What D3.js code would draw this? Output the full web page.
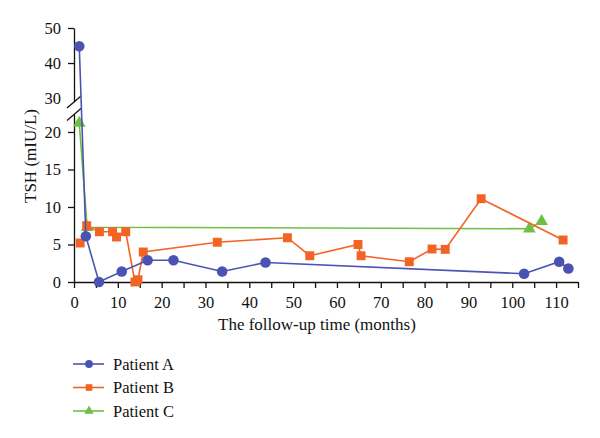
<!DOCTYPE html>
<html lang="en">
<head>
<meta charset="UTF-8">
<title>TSH follow-up</title>
<script src="https://d3js.org/d3.v7.min.js"></script>
<style>
  body { margin: 0; background: #fff; }
  svg text { font-family: "Liberation Serif", "DejaVu Serif", serif; fill: #111; }
  .axis path, .axis line { stroke: #111; stroke-width: 1.3; }
  .axis text { font-size: 16.5px; }
</style>
</head>
<body>
<script>
// follow-up months and TSH (mIU/L) per patient
const monthsA = [1.2, 2.7, 5.7, 10.9, 16.8, 22.7, 33.8, 43.7, 102.7, 110.7, 112.8];
const tshA    = [44.8, 6.1, 0, 1.4, 2.9, 2.9, 1.4, 2.6, 1.1, 2.7, 1.8];

const monthsB = [1.4, 2.9, 5.8, 8.8, 9.7, 11.8, 13.9, 14.6, 15.8, 32.7, 48.7, 53.8, 64.8, 65.5, 76.5, 81.7, 84.7, 92.9, 111.6];
const tshB    = [5.2, 7.5, 6.7, 6.7, 6.0, 6.7, 0, 0.3, 4.0, 5.3, 5.9, 3.5, 5.0, 3.5, 2.7, 4.4, 4.35, 11.1, 5.6];

const monthsC = [1.2, 3.0, 103.9, 106.7];
const tshC    = [21.2, 7.3, 7.1, 8.1];

const yTicksLow = [0, 5, 10, 15, 20];
const yTicksHigh = [30, 40, 50];

const patients = [
  { name: "Patient C", x: monthsC, y: tshC, color: "#6fbf43", shape: d3.symbolTriangle, size: 70 },
  { name: "Patient B", x: monthsB, y: tshB, color: "#f26424", shape: d3.symbolSquare, size: 80 },
  { name: "Patient A", x: monthsA, y: tshA, color: "#4a53b1", shape: d3.symbolCircle, size: 88 }
];
const legendOrder = ["Patient A", "Patient B", "Patient C"];

const W = 600, H = 438;
const svg = d3.select("body").append("svg").attr("width", W).attr("height", H);

const x = d3.scaleLinear().domain([0, 115]).range([74, 578]);
// broken y axis: lower part 0..22.3, upper part 28.9..50
const yLow = d3.scaleLinear().domain([0, 22.33]).range([282, 114.5]);
const yHigh = d3.scaleLinear().domain([28.9, 50]).range([101.9, 28]);
const y = v => v > 25 ? yHigh(v) : yLow(v);

// x axis, minor ticks every 5
svg.append("g").attr("class", "axis")
  .attr("transform", `translate(0,${yLow(0)})`)
  .call(d3.axisBottom(x).tickValues(d3.range(0, 116, 5)).tickSize(6).tickSizeOuter(0)
    .tickFormat(d => d % 10 === 0 ? d : ""))
  .call(g => g.selectAll("text").attr("dy", "1.0em"));

svg.append("g").attr("class", "axis")
  .attr("transform", `translate(${x(0)},0)`)
  .call(d3.axisLeft(yLow).tickValues(yTicksLow).tickSize(6).tickPadding(7).tickSizeOuter(0));

svg.append("g").attr("class", "axis")
  .attr("transform", `translate(${x(0)},0)`)
  .call(d3.axisLeft(yHigh).tickValues(yTicksHigh).tickSize(6).tickPadding(7).tickSizeOuter(0))
  .call(g => g.selectAll(".tick").filter(d => d === 30).select("line").remove());

// break marks
[yHigh.range()[0], yLow.range()[1]].forEach(yy => {
  svg.append("line")
    .attr("x1", x(0) - 7).attr("y1", yy + 6)
    .attr("x2", x(0) + 7).attr("y2", yy - 6)
    .attr("stroke", "#111").attr("stroke-width", 1.3);
});

// series
const line = d3.line().x(d => x(d[0])).y(d => y(d[1]));
patients.forEach(p => {
  const pts = p.x.map((m, i) => [m, p.y[i]]);
  svg.append("path").datum(pts)
    .attr("d", line).attr("fill", "none")
    .attr("stroke", p.color).attr("stroke-width", 1.6);
  svg.selectAll(null).data(pts).enter().append("path")
    .attr("transform", d => `translate(${x(d[0])},${y(d[1])})`)
    .attr("d", d3.symbol().type(p.shape).size(p.size))
    .attr("fill", p.color);
});

// axis titles
svg.append("text")
  .attr("transform", `translate(36,156) rotate(-90)`)
  .attr("text-anchor", "middle").style("font-size", "17px")
  .text("TSH (mIU/L)");
svg.append("text")
  .attr("x", 218).attr("y", 330)
  .style("font-size", "17px")
  .text("The follow-up time (months)");

// legend
const leg = svg.append("g");
legendOrder.forEach((name, i) => {
  const p = patients.find(q => q.name === name);
  const ly = 364 + i * 23.5;
  leg.append("line").attr("x1", 73).attr("x2", 104).attr("y1", ly).attr("y2", ly)
    .attr("stroke", p.color).attr("stroke-width", 1.6);
  leg.append("path").attr("transform", `translate(89,${ly})`)
    .attr("d", d3.symbol().type(p.shape).size(p.size * 0.55)).attr("fill", p.color);
  leg.append("text").attr("x", 113).attr("y", ly).attr("dy", "0.35em")
    .style("font-size", "16.5px").text(name);
});
</script>
</body>
</html>
